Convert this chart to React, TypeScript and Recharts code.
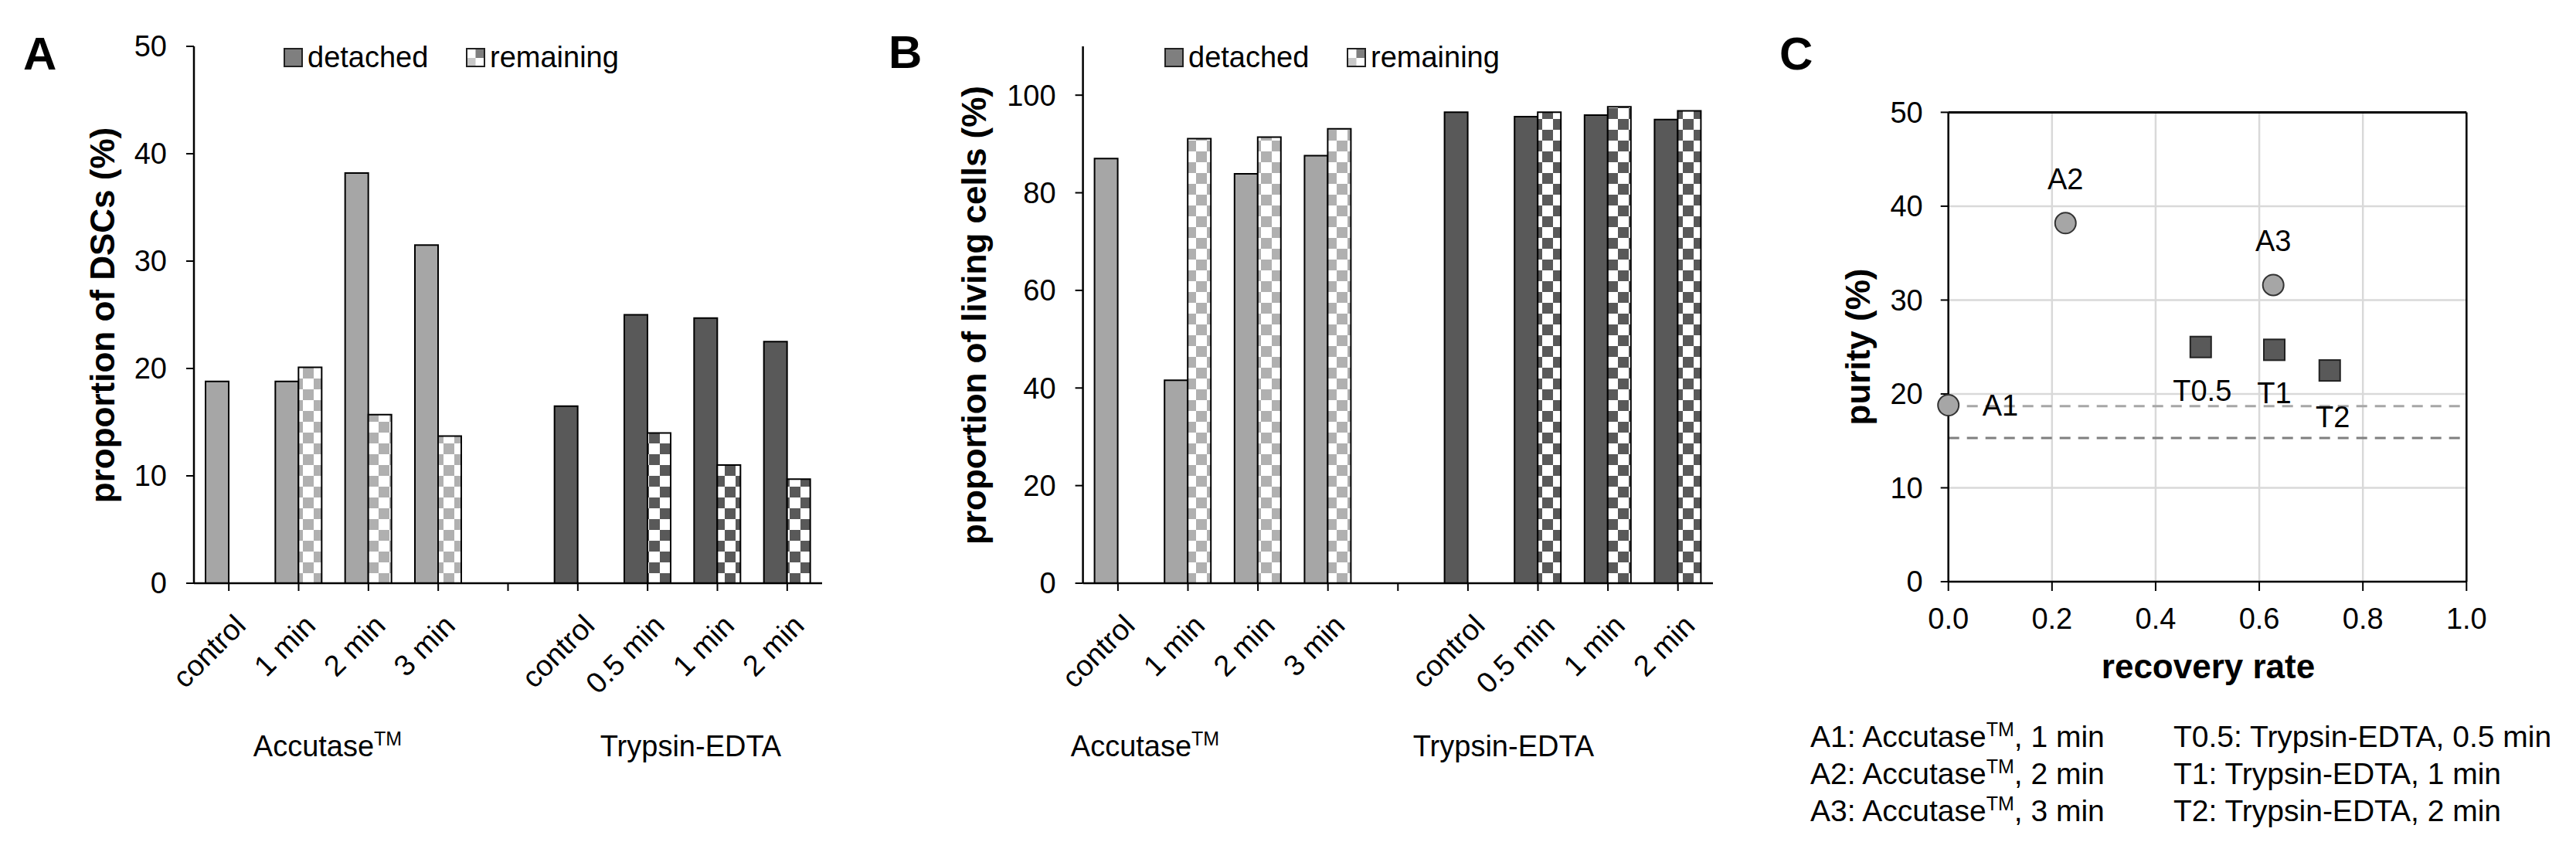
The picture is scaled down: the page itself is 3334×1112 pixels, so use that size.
import { BarChart, Bar, XAxis, YAxis, Cell, ScatterChart, Scatter, CartesianGrid, ReferenceLine } from 'recharts';

// categories shared by panels A and B ('' is the gap between the two enzymes)
const CATEGORIES = ['control', '1 min', '2 min', '3 min', '', 'control', '0.5 min', '1 min', '2 min'];
const ENZYME = ['A', 'A', 'A', 'A', '', 'T', 'T', 'T', 'T'];

// panel A: proportion of DSCs (%)
const DSC_DETACHED = [18.8, 18.8, 38.2, 31.5, null, 16.5, 25.0, 24.7, 22.5];
const DSC_REMAINING = [null, 20.1, 15.7, 13.7, null, null, 14.0, 11.0, 9.7];
const DSC_TICKS = [0, 10, 20, 30, 40, 50];

// panel B: proportion of living cells (%)
const LIVING_DETACHED = [87.0, 41.6, 83.9, 87.6, null, 96.5, 95.6, 95.9, 95.0];
const LIVING_REMAINING = [null, 91.1, 91.4, 93.1, null, null, 96.5, 97.6, 96.8];
const LIVING_TICKS = [0, 20, 40, 60, 80, 100];

// panel C: purity vs recovery rate
const POINT_NAMES = ['A1', 'A2', 'A3', 'T0.5', 'T1', 'T2'];
const POINT_ENZYME = ['A', 'A', 'A', 'T', 'T', 'T'];
const RECOVERY = [0.0, 0.226, 0.627, 0.487, 0.629, 0.736];
const PURITY = [18.8, 38.2, 31.6, 25.0, 24.7, 22.5];
const CONTROL_PURITY = [18.7, 15.3];
const RECOVERY_TICKS = [0, 0.2, 0.4, 0.6, 0.8, 1.0];
const PURITY_TICKS = [0, 10, 20, 30, 40, 50];

const FOOTNOTE_LEFT = [['A1', '1 min'], ['A2', '2 min'], ['A3', '3 min']];
const FOOTNOTE_RIGHT = ['T0.5: Trypsin-EDTA, 0.5 min', 'T1: Trypsin-EDTA, 1 min', 'T2: Trypsin-EDTA, 2 min'];

const FONT = '"Liberation Sans", Arial, Helvetica, sans-serif';
const FS = 38;
const DETACHED_FILL: Record<string, string> = { A: '#a6a6a6', T: '#595959' };

// label placement around scatter points
const LABEL_POS: Record<string, [number, number, string]> = {
  A1: [44, 13, 'start'],
  A2: [0, -44, 'middle'],
  A3: [0, -44, 'middle'],
  'T0.5': [2, 70, 'middle'],
  T1: [0, 69, 'middle'],
  T2: [4, 73, 'middle'],
};

const PAGE_H = 1112;
const AXIS_Y = 755;

function CategoryTick(props: any) {
  const { x, y, payload } = props;
  const bx = x + 24;
  const by = y + 47;
  return (
    <text x={bx} y={by} transform={`rotate(-45 ${bx} ${by})`} textAnchor="end" fontSize={FS} fontFamily={FONT} fill="#000">
      {payload.value}
    </text>
  );
}

interface BarPanelProps {
  id: string;
  left: number;
  width: number;
  plotLeft: number;
  plotRight: number;
  detached: (number | null)[];
  remaining: (number | null)[];
  domain: [number, number];
  ticks: number[];
}

function BarPanel({ id, left, width, plotLeft, plotRight, detached, remaining, domain, ticks }: BarPanelProps) {
  const data = CATEGORIES.map((name, i) => ({ name, detached: detached[i], remaining: remaining[i] }));
  return (
    <div style={{ position: 'absolute', left, top: 0 }}>
      <BarChart
        width={width}
        height={PAGE_H}
        data={data}
        barGap={0}
        margin={{ top: 60, left: plotLeft - left - 80, right: left + width - plotRight, bottom: PAGE_H - AXIS_Y - 60 }}
      >
        <defs>
          <pattern id={`${id}-chkA`} width={28} height={28} patternUnits="userSpaceOnUse">
            <rect width={28} height={28} fill="#fff" />
            <rect width={14} height={14} fill="#b0b0b0" />
            <rect x={14} y={14} width={14} height={14} fill="#b0b0b0" />
          </pattern>
          <pattern id={`${id}-chkT`} width={28} height={28} patternUnits="userSpaceOnUse">
            <rect width={28} height={28} fill="#fff" />
            <rect width={14} height={14} fill="#595959" />
            <rect x={14} y={14} width={14} height={14} fill="#595959" />
          </pattern>
        </defs>
        <XAxis
          dataKey="name"
          height={60}
          interval={0}
          tickSize={10}
          tickMargin={0}
          axisLine={{ stroke: '#000', strokeWidth: 2.5 }}
          tickLine={{ stroke: '#000', strokeWidth: 2 }}
          tick={<CategoryTick />}
        />
        <YAxis
          width={80}
          domain={domain}
          ticks={ticks}
          interval={0}
          tickSize={10}
          tickMargin={25}
          axisLine={{ stroke: '#000', strokeWidth: 2.5 }}
          tickLine={{ stroke: '#000', strokeWidth: 2 }}
          tick={{ fontSize: FS, fill: '#000', fontFamily: FONT }}
        />
        <Bar dataKey="detached" barSize={30} stroke="#000" strokeWidth={2} isAnimationActive={false}>
          {data.map((_, i) => (
            <Cell key={i} fill={DETACHED_FILL[ENZYME[i]] || '#fff'} />
          ))}
        </Bar>
        <Bar dataKey="remaining" barSize={30} stroke="#000" strokeWidth={2} isAnimationActive={false}>
          {data.map((_, i) => (
            <Cell key={i} fill={`url(#${id}-chk${ENZYME[i] || 'A'})`} />
          ))}
        </Bar>
      </BarChart>
    </div>
  );
}

function pointShape(kind: string) {
  return (p: any) => {
    const { cx, cy, payload } = p;
    const [dx, dy, anchor] = LABEL_POS[payload.name] || [0, -40, 'middle'];
    return (
      <g>
        {kind === 'A' ? (
          <circle cx={cx} cy={cy} r={13.5} fill="#a6a6a6" stroke="#333" strokeWidth={2} />
        ) : (
          <rect x={cx - 13.5} y={cy - 13.5} width={27} height={27} fill="#595959" stroke="#222" strokeWidth={2} />
        )}
        <text x={cx + dx} y={cy + dy} textAnchor={anchor as any} fontSize={FS} fontFamily={FONT} fill="#000">
          {payload.name}
        </text>
      </g>
    );
  };
}

function ScatterPanel() {
  const pts = POINT_NAMES.map((name, i) => ({ name, x: RECOVERY[i], y: PURITY[i], enzyme: POINT_ENZYME[i] }));
  const left = 2250;
  const width = 1084;
  const plotLeft = 2521.7;
  const plotRight = 3192.3;
  return (
    <div style={{ position: 'absolute', left, top: 0 }}>
      <ScatterChart
        width={width}
        height={PAGE_H}
        margin={{ top: 145.4, left: plotLeft - left - 80, right: left + width - plotRight, bottom: PAGE_H - 753 - 60 }}
      >
        <CartesianGrid stroke="#d9d9d9" strokeWidth={2.5} />
        <XAxis
          type="number"
          dataKey="x"
          domain={[0, 1]}
          ticks={RECOVERY_TICKS}
          interval={0}
          height={60}
          tickSize={12}
          tickMargin={22}
          tickFormatter={(v: number) => v.toFixed(1)}
          axisLine={{ stroke: '#000', strokeWidth: 2.5 }}
          tickLine={{ stroke: '#000', strokeWidth: 2 }}
          tick={{ fontSize: FS, fill: '#000', fontFamily: FONT }}
        />
        <YAxis
          type="number"
          dataKey="y"
          domain={[0, 50]}
          ticks={PURITY_TICKS}
          interval={0}
          width={80}
          tickSize={10}
          tickMargin={23}
          axisLine={{ stroke: '#000', strokeWidth: 2.5 }}
          tickLine={{ stroke: '#000', strokeWidth: 2 }}
          tick={{ fontSize: FS, fill: '#000', fontFamily: FONT }}
        />
        <ReferenceLine y={50} stroke="#000" strokeWidth={3} />
        <ReferenceLine x={1} stroke="#000" strokeWidth={2.5} />
        <ReferenceLine y={CONTROL_PURITY[0]} stroke="#a6a6a6" strokeWidth={3} strokeDasharray="14 10" />
        <ReferenceLine y={CONTROL_PURITY[1]} stroke="#7f7f7f" strokeWidth={3} strokeDasharray="14 10" />
        <Scatter data={pts.filter((p) => p.enzyme === 'A')} shape={pointShape('A')} isAnimationActive={false} />
        <Scatter data={pts.filter((p) => p.enzyme === 'T')} shape={pointShape('T')} isAnimationActive={false} />
      </ScatterChart>
    </div>
  );
}

function LegendSvg({ dx }: { dx: number }) {
  return (
    <g transform={`translate(${dx},0)`} fontFamily={FONT} fontSize={FS}>
      <rect x={368} y={63} width={23} height={23} fill="#7f7f7f" stroke="#222" strokeWidth={2} />
      <text x={398} y={87}>detached</text>
      <rect x={604} y={63} width={23} height={23} fill="#fff" stroke="#222" strokeWidth={2} />
      <rect x={615.5} y={64} width={10.5} height={11} fill="#7f7f7f" />
      <rect x={605} y={75} width={10.5} height={10} fill="#c8c8c8" />
      <text x={634} y={87}>remaining</text>
    </g>
  );
}

function Overlay() {
  return (
    <svg width={3334} height={PAGE_H} style={{ position: 'absolute', left: 0, top: 0, pointerEvents: 'none' }} fill="#000">
      <g fontFamily={FONT} fontWeight="bold" fontSize={60}>
        <text x={30} y={90}>A</text>
        <text x={1150} y={88}>B</text>
        <text x={2303} y={90}>C</text>
      </g>
      <LegendSvg dx={0} />
      <LegendSvg dx={1140} />
      <g fontFamily={FONT} fontWeight="bold" fontSize={44} textAnchor="middle">
        <text x={148} y={408} transform="rotate(-90 148 408)">proportion of DSCs (%)</text>
        <text x={1276} y={408} transform="rotate(-90 1276 408)">proportion of living cells (%)</text>
        <text x={2420} y={449} transform="rotate(-90 2420 449)">purity (%)</text>
        <text x={2858} y={878}>recovery rate</text>
      </g>
      <g fontFamily={FONT} fontSize={FS} textAnchor="middle">
        <text x={424} y={979}>Accutase<tspan fontSize={25} dy={-14}>TM</tspan></text>
        <text x={894} y={979}>Trypsin-EDTA</text>
        <text x={1482} y={979}>Accutase<tspan fontSize={25} dy={-14}>TM</tspan></text>
        <text x={1946} y={979}>Trypsin-EDTA</text>
      </g>
      <g fontFamily={FONT} fontSize={39}>
        {FOOTNOTE_LEFT.map(([code, time], i) => (
          <text key={code} x={2343} y={967 + i * 48}>
            {code}: Accutase<tspan fontSize={25} dy={-14}>TM</tspan>
            <tspan dy={14}>, {time}</tspan>
          </text>
        ))}
        {FOOTNOTE_RIGHT.map((t, i) => (
          <text key={t} x={2813} y={967 + i * 48}>{t}</text>
        ))}
      </g>
    </svg>
  );
}

export default function App() {
  return (
    <div style={{ position: 'relative', width: 3334, height: PAGE_H, background: '#fff' }}>
      <style>{'body{margin:0}'}</style>
      <BarPanel
        id="dsc"
        left={0}
        width={1100}
        plotLeft={251}
        plotRight={1064}
        detached={DSC_DETACHED}
        remaining={DSC_REMAINING}
        domain={[0, 50]}
        ticks={DSC_TICKS}
      />
      <BarPanel
        id="living"
        left={1100}
        width={1150}
        plotLeft={1401.6}
        plotRight={2217}
        detached={LIVING_DETACHED}
        remaining={LIVING_REMAINING}
        domain={[0, 110]}
        ticks={LIVING_TICKS}
      />
      <ScatterPanel />
      <Overlay />
    </div>
  );
}
